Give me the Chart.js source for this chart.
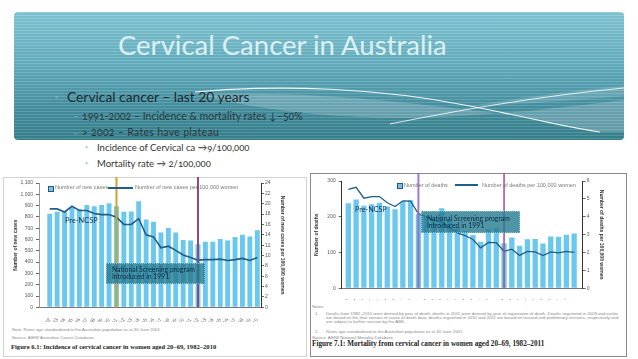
<!DOCTYPE html>
<html>
<head>
<meta charset="utf-8">
<title>Cervical Cancer in Australia</title>
<script src="https://cdn.jsdelivr.net/npm/chart.js@4.4.1/dist/chart.umd.min.js"></script>
<style>
  html, body { margin: 0; padding: 0; }
  body { width: 638px; height: 359px; position: relative; overflow: hidden; background: #fff; font-family: Lato, "Open Sans", sans-serif; }
  .abs { position: absolute; white-space: nowrap; line-height: 1; }
  .banner { position: absolute; left: 14px; top: 12px; width: 610px; height: 128px; border-radius: 4px; overflow: hidden;
    background: linear-gradient(#84c8d7 0%, #66b1c1 40%, #4791a2 75%, #38828f 100%); }
  .stripes { position: absolute; left: 0; top: 0; right: 0; bottom: 0;
    background: repeating-linear-gradient(to bottom, rgba(255,255,255,0.12) 0 1px, rgba(0,0,0,0.04) 1px 3px); }
  .num { font-variant-numeric: oldstyle-nums; }
  .fig { position: absolute; box-sizing: border-box; }
  canvas { position: absolute; }
  .small { font-family: "Liberation Sans", Arial, sans-serif; color: #777; }
  .cap { font-family: "Liberation Serif", "Times New Roman", serif; font-weight: bold; color: #222; }
  .note { position: absolute; font-family: "Liberation Sans", Arial, sans-serif; color: #888; font-size: 4.3px; line-height: 4.2px; }
  .anno { position: absolute; box-sizing: border-box; background: rgba(35,122,142,0.8); border: 1px dotted #8cc3cf;
    color: #0e2a48; font-size: 6.8px; line-height: 7.3px; padding: 2px 0 0 5px; white-space: nowrap; }
  .pre { color: #0f2d50; }
  .key { position: absolute; }
</style>
</head>
<body>

<div class="banner">
  <div class="stripes"></div>
  <svg width="610" height="128" viewBox="14 12 610 128" style="position:absolute;left:0;top:0">
    <path d="M200,95 C300,90 400,102 470,110 C520,115 560,123 600,132 L624,132 L624,100 C560,108 470,118 400,118 C320,118 250,108 200,95 Z" fill="rgba(255,255,255,0.2)"/>
    <path d="M470,106 C530,96 580,90 624,86 L624,96 C580,100 530,104 470,106 Z" fill="rgba(255,255,255,0.15)"/>
    <path d="M195,92 C280,84 380,88 470,106 S560,126 600,132" fill="none" stroke="rgba(255,255,255,0.9)" stroke-width="1.2"/>
    <path d="M390,124 C460,110 540,96 624,88" fill="none" stroke="rgba(255,255,255,0.8)" stroke-width="1"/>
  </svg>
</div>

<div class="abs" style="left:118px;top:30.5px;font-size:27.5px;color:#dcf0f4;">Cervical Cancer in Australia</div>
<div class="abs" style="left:55px;top:93px;font-size:8px;color:rgba(255,255,255,0.35)">▫</div>
<div class="abs" style="left:67px;top:89.5px;font-size:13.8px;color:#1c2a2f">Cervical cancer – last 20 years</div>
<div class="abs" style="left:73px;top:111px;font-size:9px;color:rgba(255,255,255,0.3)">–</div>
<div class="abs num" style="left:82px;top:110.5px;font-size:10.5px;color:#2a3b40">1991-2002 – Incidence &amp; mortality rates ↓–50%</div>
<div class="abs" style="left:73px;top:128px;font-size:9px;color:rgba(255,255,255,0.3)">–</div>
<div class="abs num" style="left:82px;top:127px;font-size:10.5px;color:#2a3b40;letter-spacing:0.3px">&gt; 2002 – Rates have plateau</div>
<div class="abs" style="left:85px;top:145.5px;font-size:7px;color:#6bb5c4">*</div>
<div class="abs num" style="left:97px;top:143px;font-size:9.5px;color:#333">Incidence of Cervical ca →9/100,000</div>
<div class="abs" style="left:85px;top:161.5px;font-size:7px;color:#6bb5c4">*</div>
<div class="abs num" style="left:97px;top:159px;font-size:9.5px;color:#333">Mortality rate → 2/100,000</div>

<!-- left figure: incidence -->
<div class="fig" style="left:3px;top:177px;width:304px;height:180px;border:1px solid #d2d2d2"></div>
<canvas id="incidence" width="304" height="145" style="left:3px;top:177px"></canvas>
<div class="key" style="left:48px;top:185.5px;width:4px;height:4px;background:#6ac7ee;border:0.8px solid #2d5573"></div>
<div class="abs small" style="left:55px;top:185.3px;font-size:5.5px">Number of new cases</div>
<div class="key" style="left:108px;top:187px;width:25px;height:2px;background:#1f5d8a"></div>
<div class="abs small" style="left:135px;top:185.3px;font-size:5.5px">Number of new cases per 100,000 women</div>
<div class="abs pre" style="left:65px;top:216.5px;font-size:7.4px">Pre-NCSP</div>
<div class="anno" style="left:106px;top:263px;width:99px;height:21px">National Screening program<br>Introduced in 1991</div>
<div class="note" style="left:12px;top:328px;white-space:nowrap">Note: Rates age-standardised to the Australian population as at 30 June 2001.</div>
<div class="note" style="left:12px;top:336px;white-space:nowrap">Source: AIHW Australian Cancer Database.</div>
<div class="abs cap" style="left:11px;top:344px;font-size:6.6px">Figure 6.1: Incidence of cervical cancer in women aged 20–69, 1982–2010</div>

<!-- right figure: mortality -->
<div class="fig" style="left:310px;top:173px;width:317px;height:184px;border:1px solid #8a8a8a"></div>
<canvas id="mortality" width="317" height="127" style="left:310px;top:173px"></canvas>
<div class="key" style="left:397px;top:183px;width:4px;height:4px;background:#6ac7ee;border:0.8px solid #2d5573"></div>
<div class="abs small" style="left:404px;top:182.5px;font-size:5.5px">Number of deaths</div>
<div class="key" style="left:455px;top:184.3px;width:23px;height:1.5px;background:#1f5d8a"></div>
<div class="abs small" style="left:482px;top:182.5px;font-size:5.5px">Number of deaths per 100,000 women</div>
<div class="abs pre" style="left:355px;top:205.7px;font-size:7.2px">Pre-NCSP</div>
<div class="anno" style="left:421px;top:211px;width:99px;height:22px;padding-top:3px">National Screening program<br>Introduced in 1991</div>
<div class="note" style="left:312px;top:305px;white-space:nowrap">Notes</div>
<div class="note" style="left:315px;top:312px;white-space:nowrap">1.</div>
<div class="note" style="left:326px;top:312px;width:297px">Deaths from 1982–2010 were derived by year of death; deaths in 2011 were derived by year of registration of death. Deaths registered in 2009 and earlier are based on the final version of cause of death data; deaths registered in 2010 and 2011 are based on revised and preliminary versions, respectively and are subject to further revision by the ABS.</div>
<div class="note" style="left:315px;top:329.5px;white-space:nowrap">2.</div>
<div class="note" style="left:326px;top:329.5px;white-space:nowrap">Rates age-standardised to the Australian population as at 30 June 2001.</div>
<div class="note" style="left:312px;top:335.5px;white-space:nowrap">Source: AIHW National Mortality Database.</div>
<div class="abs cap" style="left:312px;top:341.3px;font-size:7.2px">Figure 7.1: Mortality from cervical cancer in women aged 20–69, 1982–2011</div>

<script>
// incidence, women aged 20-69
const incidenceYears = [1982, 1983, 1984, 1985, 1986, 1987, 1988, 1989, 1990, 1991,
  1992, 1993, 1994, 1995, 1996, 1997, 1998, 1999, 2000, 2001,
  2002, 2003, 2004, 2005, 2006, 2007, 2008, 2009, 2010];
const newCases = [827, 845, 850, 880, 868, 906, 895, 906, 921, 895,
  845, 848, 939, 777, 756, 661, 702, 661, 596, 591,
  558, 579, 580, 605, 591, 623, 641, 626, 681];
const newCasesRate = [19.0, 19.0, 18.4, 19.5, 18.7, 18.7, 18.1, 17.9, 17.9, 17.4,
  16.0, 16.0, 17.1, 14.0, 13.6, 11.5, 11.8, 11.0, 10.1, 9.6,
  9.1, 9.2, 9.2, 9.3, 9.05, 9.2, 9.45, 9.05, 9.6];

// mortality, women aged 20-69
const mortalityYears = [1982, 1983, 1984, 1985, 1986, 1987, 1988, 1989, 1990, 1991,
  1992, 1993, 1994, 1995, 1996, 1997, 1998, 1999, 2000, 2001,
  2002, 2003, 2004, 2005, 2006, 2007, 2008, 2009, 2010, 2011];
const deaths = [238, 248, 231, 235, 239, 229, 221, 242, 246, 207,
  200, 197, 224, 192, 172, 160, 149, 130, 165, 168,
  126, 142, 119, 137, 138, 125, 145, 144, 150, 153];
const deathsRate = [5.53, 5.65, 5.04, 5.13, 5.13, 4.78, 4.57, 4.89, 4.87, 4.17,
  4.0, 3.8, 3.7, 3.4, 3.1, 2.95, 2.73, 2.26, 2.56, 2.55,
  2.07, 2.19, 1.84, 2.06, 2.04, 1.83, 2.04, 1.98, 2.06, 2.01];

// screening program start and plateau
const markerYears = [1991, 2002];

Chart.defaults.font.family = '"Liberation Sans", Arial, sans-serif';
Chart.defaults.animation = false;

const barColor = '#6ac7ee';
const lineColor = '#1f5d8a';
const tickFont = { size: 5 };

// vertical marker lines, drawn through the x scale
const markerLines = {
  id: 'markerLines',
  afterDatasetsDraw(chart, args, opts) {
    const { ctx, chartArea } = chart;
    const x = chart.scales.x;
    opts.years.forEach((yr, i) => {
      const px = x.getPixelForValue(yr);
      ctx.save();
      ctx.strokeStyle = opts.colors[i];
      ctx.lineWidth = opts.widths[i];
      ctx.beginPath();
      ctx.moveTo(px, 0);
      ctx.lineTo(px, chartArea.bottom);
      ctx.stroke();
      ctx.restore();
    });
  }
};

function points(xs, ys) {
  return xs.map((yr, i) => ({ x: yr, y: ys[i] }));
}

function yearAxis(min, max, years, height) {
  return {
    type: 'linear', min: min, max: max, offset: false,
    grid: { display: false },
    border: { color: '#777' },
    ticks: {
      stepSize: 1, includeBounds: false, autoSkip: false,
      minRotation: 55, maxRotation: 55, padding: 2,
      font: tickFont, color: '#666',
      callback: v => years.includes(v) ? String(v) : ''
    },
    afterFit: s => { s.height = height; }
  };
}

function sideAxis(pos, max, step, title, width, borderColor, fmt) {
  return {
    position: pos, min: 0, max: max,
    border: { color: borderColor, width: 1 },
    grid: { drawOnChartArea: false, tickLength: 3, color: '#666' },
    ticks: { stepSize: step, font: tickFont, color: '#555', padding: pos === 'left' ? 3 : 1, callback: fmt },
    title: { display: true, text: title, font: { size: 5, weight: 'bold' }, color: '#333' },
    afterFit: s => { s.width = width; }
  };
}

new Chart(document.getElementById('incidence'), {
  type: 'bar',
  data: {
    datasets: [
      {
        type: 'line',
        label: 'Number of new cases per 100,000 women',
        yAxisID: 'y1',
        data: points(incidenceYears, newCasesRate),
        borderColor: lineColor,
        borderWidth: 1.6,
        pointRadius: 0,
        tension: 0,
        order: 0
      },
      {
        label: 'Number of new cases',
        yAxisID: 'y',
        data: points(incidenceYears, newCases),
        backgroundColor: barColor,
        barPercentage: 0.66,
        categoryPercentage: 1,
        order: 1
      }
    ]
  },
  options: {
    responsive: false,
    layout: { padding: { left: 6, right: 18, top: 5, bottom: 0 } },
    plugins: {
      legend: { display: false },
      tooltip: { enabled: false },
      markerLines: { years: markerYears, colors: ['#c9a42c', '#8d4a7c'], widths: [2, 2] }
    },
    scales: {
      x: yearAxis(1980.55, 2010.5, incidenceYears, 14.7),
      y: sideAxis('left', 1100, 100, 'Number of new cases', 30, '#999', v => v.toLocaleString('en-US')),
      y1: sideAxis('right', 24, 2, 'Number of new cases per 100,000 women', 28, '#333', v => v)
    }
  },
  plugins: [markerLines]
});

new Chart(document.getElementById('mortality'), {
  type: 'bar',
  data: {
    datasets: [
      {
        type: 'line',
        label: 'Number of deaths per 100,000 women',
        yAxisID: 'y1',
        data: points(mortalityYears, deathsRate),
        borderColor: lineColor,
        borderWidth: 1.3,
        pointRadius: 0,
        tension: 0,
        order: 0
      },
      {
        label: 'Number of deaths',
        yAxisID: 'y',
        data: points(mortalityYears, deaths),
        backgroundColor: barColor,
        barPercentage: 0.68,
        categoryPercentage: 1,
        order: 1
      }
    ]
  },
  options: {
    responsive: false,
    layout: { padding: { left: 0, right: 18.3, top: 8, bottom: 0 } },
    plugins: {
      legend: { display: false },
      tooltip: { enabled: false },
      markerLines: { years: markerYears, colors: ['rgba(150,100,180,0.85)', '#b04a84'], widths: [2, 1.5] }
    },
    scales: {
      x: yearAxis(1981.15, 2012.1, mortalityYears, 11.7),
      y: sideAxis('left', 300, 100, 'Number of deaths', 31.7, '#333', v => v),
      y1: sideAxis('right', 6, 1, 'Number of deaths per 100,000 women', 26, '#333', v => v)
    }
  },
  plugins: [markerLines]
});
</script>
</body>
</html>
